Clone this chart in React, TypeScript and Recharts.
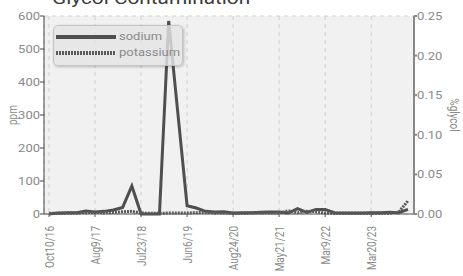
import React from 'react';
import { LineChart, Line, XAxis, YAxis, CartesianGrid } from 'recharts';

// tick labels shown every 5th sample
const tickLabels = ['Oct10/16', 'Aug9/17', 'Jul23/18', 'Jun6/19', 'Aug24/20', 'May21/21', 'Mar9/22', 'Mar20/23'];

const sodium = [
  0, 3, 4, 4, 9, 6, 8, 12, 20, 85,
  0, 0, 0, 585, 305, 25, 18, 8, 6, 7,
  3, 4, 4, 5, 6, 6, 3, 16, 5, 14,
  14, 4, 3, 3, 3, 4, 4, 5, 4, 14,
];

const potassium = [
  2, 2, 3, 3, 4, 5, 4, 5, 7, 8,
  3, 2, 2, 3, 3, 3, 4, 5, 3, 3,
  2, 2, 3, 3, 3, 3, 10, 4, 8, 7,
  3, 2, 2, 2, 2, 2, 2, 2, 6, 40,
];

const ppmTicks = [0, 100, 200, 300, 400, 500, 600];
const glycolTicks = [0, 0.05, 0.1, 0.15, 0.2, 0.25];

const series = [
  { key: 'sodium', color: '#4f4f4f', dash: undefined },
  { key: 'potassium', color: '#5a5a5a', dash: '2 1' },
];

const STEP = 5;
const data = sodium.map((s, i) => ({ idx: i, sodium: s, potassium: potassium[i] }));
const xTicks = tickLabels.map((_, i) => i * STEP);

const FONT = 'Roboto, sans-serif';
const SX = 1.3;
const GREY = '#8a8a8a';

const YTick = (props: any) => {
  const { x, y, payload, anchor, fmt } = props;
  return (
    <g transform={`translate(${x},${y}) scale(${SX},1)`}>
      <text textAnchor={anchor} dy={4} fill={GREY} fontSize={10} fontFamily={FONT}>
        {fmt(payload.value)}
      </text>
    </g>
  );
};

const XTick = (props: any) => {
  const { x, y, payload } = props;
  return (
    <g transform={`translate(${x},${y}) scale(${SX},1) rotate(-90)`}>
      <text x={-7} dy={3.5} textAnchor="end" fill={GREY} fontSize={10} fontFamily={FONT}>
        {tickLabels[payload.value / STEP]}
      </text>
    </g>
  );
};

const AxisTitle = (text: string, dxOff: number, angle: number) => (props: any) => {
  const vb = props.viewBox;
  const cx = vb.x + dxOff;
  const cy = vb.y + vb.height / 2;
  return (
    <g transform={`translate(${cx},${cy}) scale(${SX},1) rotate(${angle})`}>
      <text textAnchor="middle" dy={3.5} fill={GREY} fontSize={10} fontFamily={FONT}>
        {text}
      </text>
    </g>
  );
};

const LegendBox = () => (
  <div
    style={{
      position: 'absolute',
      left: 53,
      top: 25,
      width: 130,
      height: 41,
      boxSizing: 'border-box',
      background: 'rgba(228,228,228,0.82)',
      border: '1px solid #c4c4c4',
      borderRadius: 5,
      boxShadow: '1px 1px 3px rgba(0,0,0,0.25)',
    }}
  >
    {series.map((s, i) => (
      <div key={s.key} style={{ position: 'absolute', left: 2, top: 6 + i * 16, height: 10, display: 'flex', alignItems: 'center' }}>
        <svg width={60} height={6}>
          <line x1={0} y1={3} x2={60} y2={3} stroke={s.color} strokeWidth={4} strokeDasharray={s.dash} />
        </svg>
        <span
          style={{
            marginLeft: 3,
            color: GREY,
            fontFamily: FONT,
            fontSize: 10,
            lineHeight: '10px',
            display: 'inline-block',
            transform: `scale(${SX},1)`,
            transformOrigin: 'left center',
          }}
        >
          {s.key}
        </span>
      </div>
    ))}
  </div>
);

export default function App() {
  return (
    <div style={{ position: 'absolute', left: 0, top: 0, width: 463, height: 276, overflow: 'hidden', background: '#fff' }}>
      <LineChart width={463} height={276} data={data} margin={{ top: 16, right: 0, left: 0, bottom: 0 }}>
        <CartesianGrid
          stroke="#cfcfcf"
          strokeDasharray="4 4"
          fill="#f6f6f6"
          horizontalFill={['#f1f1f1', '#fafafa']}
        />
        <XAxis
          dataKey="idx"
          type="category"
          ticks={xTicks}
          interval={0}
          height={62}
          padding={{ left: 5, right: 6 }}
          stroke="#555"
          tickSize={3}
          tick={<XTick />}
        />
        <YAxis
          yAxisId="left"
          domain={[0, 600]}
          ticks={ppmTicks}
          width={44}
          stroke="#444"
          tickSize={4}
          tickMargin={0}
          tick={<YTick anchor="end" fmt={(v: number) => String(v)} />}
          label={{ content: AxisTitle('ppm', 12, -90) }}
        />
        <YAxis
          yAxisId="right"
          orientation="right"
          type="number"
          domain={[0, 0.25]}
          allowDataOverflow
          includeHidden
          ticks={glycolTicks}
          width={49}
          stroke="#888"
          strokeWidth={2}
          tickSize={3}
          tickMargin={0}
          tick={<YTick anchor="start" fmt={(v: number) => v.toFixed(2)} />}
          label={{ content: AxisTitle('%glycol', 41, 90) }}
        />
        <Line yAxisId="right" dataKey="sodium" hide legendType="none" isAnimationActive={false} />
        {series.map((s) => (
          <Line
            key={s.key}
            yAxisId="left"
            dataKey={s.key}
            stroke={s.color}
            strokeWidth={3}
            strokeDasharray={s.dash}
            dot={false}
            isAnimationActive={false}
          />
        ))}
      </LineChart>
      <div
        style={{
          position: 'absolute',
          left: 52,
          top: -11,
          fontFamily: FONT,
          fontSize: 16,
          lineHeight: '20px',
          color: '#3a3a3a',
          transform: `scale(${SX},1)`,
          transformOrigin: 'left top',
          whiteSpace: 'nowrap',
        }}
      >
        Glycol Contamination
      </div>
      <LegendBox />
    </div>
  );
}
